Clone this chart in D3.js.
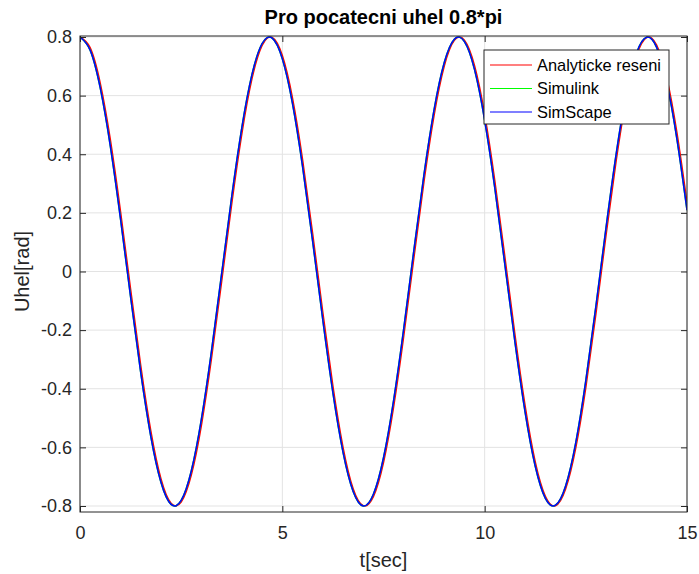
<!DOCTYPE html>
<html>
<head>
<meta charset="utf-8">
<script src="https://cdn.jsdelivr.net/npm/d3@7"></script>
<style>
body { margin:0; background:#fff; }
text { font-family: "Liberation Sans", Arial, Helvetica, sans-serif; }
</style>
</head>
<body>
<div id="chart"></div>
<script>
// time samples [s]
const time = d3.range(61).map(i => i * 0.25)
// values, one per time sample
const analyticke = [0.7995,0.7638,0.6428,0.4497,0.2063,-0.0602,-0.3199,-0.5438,-0.7070,-0.7908,
  -0.7865,-0.6946,-0.5246,-0.2960,-0.0345,0.2311,0.4706,0.6577,0.7710,0.7983,
  0.7367,0.5924,0.3817,0.1284,-0.1391,-0.3912,-0.5997,-0.7410,-0.7989,-0.7681,
  -0.6519,-0.4622,-0.2209,0.0452,0.3062,0.5329,0.7001,0.7884,0.7891,0.7022,
  0.5361,0.3100,0.0495,-0.2168,-0.4588,-0.6495,-0.7668,-0.7991,-0.7420,-0.6027,
  -0.3950,-0.1434,0.1244,0.3782,0.5898,0.7350,0.7980,0.7721,0.6603,0.4744,0.2353]
const simulink = [0.8000,0.7552,0.6261,0.4270,0.1801,-0.0869,-0.3442,-0.5630,-0.7189,-0.7944,
  -0.7811,-0.6806,-0.5038,-0.2708,-0.0076,0.2567,0.4920,0.6725,0.7778,0.7960,
  0.7254,0.5737,0.3577,0.1018,-0.1654,-0.4142,-0.6168,-0.7503,-0.7999,-0.7601,
  -0.6355,-0.4397,-0.1948,0.0720,0.3307,0.5524,0.7124,0.7925,0.7842,0.6885,
  0.5155,0.2849,0.0226,-0.2424,-0.4803,-0.6645,-0.7741,-0.7974,-0.7316,-0.5843,
  -0.3712,-0.1168,0.1508,0.4015,0.6073,0.7448,0.7994,0.7647,0.6444,0.4522,0.2093]
const simscape = [0.8000,0.7552,0.6261,0.4270,0.1801,-0.0869,-0.3442,-0.5630,-0.7189,-0.7944,
  -0.7811,-0.6806,-0.5038,-0.2708,-0.0076,0.2567,0.4920,0.6725,0.7778,0.7960,
  0.7254,0.5737,0.3577,0.1018,-0.1654,-0.4142,-0.6168,-0.7503,-0.7999,-0.7601,
  -0.6355,-0.4397,-0.1948,0.0720,0.3307,0.5524,0.7124,0.7925,0.7842,0.6885,
  0.5155,0.2849,0.0226,-0.2424,-0.4803,-0.6645,-0.7741,-0.7974,-0.7316,-0.5843,
  -0.3712,-0.1168,0.1508,0.4015,0.6073,0.7448,0.7994,0.7647,0.6444,0.4522,0.2093]
const seriesNames = ['Analyticke reseni','Simulink','SimScape']
const seriesColors = ['#ff0000','#00ff00','#0000ff']
const xTicks = [0,5,10,15]
const yTicks = [-0.8,-0.6,-0.4,-0.2,0,0.2,0.4,0.6,0.8]

const render = ()=>{
const width = 699
const height = 574
const margin = { top: 36, bottom: 62, left: 80, right: 12 }
const innerWidth = width - margin.left - margin.right
const innerHeight = height - margin.top - margin.bottom
const axisColor = '#262626'

const svg = d3.select('#chart').append('svg')
  .attr('width', width)
  .attr('height', height)

const xScale = d3.scaleLinear().domain([0,15]).range([0,innerWidth])
const yScale = d3.scaleLinear().domain([-0.8205,0.8034]).range([innerHeight,0])

const g = svg.append('g').attr('transform',`translate(${margin.left},${margin.top})`)

// grid
g.append('g').selectAll('line').data(xTicks).enter().append('line')
  .attr('x1',d=>xScale(d)).attr('x2',d=>xScale(d))
  .attr('y1',0).attr('y2',innerHeight)
  .attr('stroke','#e3e3e3')
g.append('g').selectAll('line').data(yTicks).enter().append('line')
  .attr('x1',0).attr('x2',innerWidth)
  .attr('y1',d=>yScale(d)).attr('y2',d=>yScale(d))
  .attr('stroke','#e3e3e3')

// lines
const clip = svg.append('clipPath').attr('id','clip')
clip.append('rect').attr('width',innerWidth).attr('height',innerHeight)
const line = d3.line()
  .x((d,i)=>xScale(time[i]))
  .y(d=>yScale(d))
  .curve(d3.curveNatural)
const lineGroup = g.append('g').attr('clip-path','url(#clip)')
;[analyticke, simulink, simscape].forEach((s,i)=>{
  lineGroup.append('path')
    .datum(s)
    .attr('fill','none')
    .attr('stroke',seriesColors[i])
    .attr('stroke-width',1.5)
    .attr('d',line)
})

// axes (ticks inward, MATLAB style box)
const fmt = d=>d===0 ? '0' : d3.format('.1f')(d).replace('\u2212','-')
const xAxis = g.append('g')
  .attr('transform',`translate(0,${innerHeight})`)
  .call(d3.axisBottom(xScale).tickValues(xTicks).tickSize(-6).tickSizeOuter(0).tickPadding(14))
const yAxis = g.append('g')
  .call(d3.axisLeft(yScale).tickValues(yTicks).tickSize(-6).tickSizeOuter(0).tickPadding(8).tickFormat(fmt))
const xAxisTop = g.append('g')
  .call(d3.axisTop(xScale).tickValues(xTicks).tickSize(-6).tickSizeOuter(0).tickFormat(''))
const yAxisRight = g.append('g')
  .attr('transform',`translate(${innerWidth},0)`)
  .call(d3.axisRight(yScale).tickValues(yTicks).tickSize(-6).tickSizeOuter(0).tickFormat(''))
;[xAxis,yAxis,xAxisTop,yAxisRight].forEach(a=>{
  a.select('.domain').remove()
  a.selectAll('line').attr('stroke',axisColor)
  a.selectAll('text').attr('fill',axisColor).style('font-size','18px')
    .style('font-family','"Liberation Sans", Arial, sans-serif')
})

g.append('rect')
  .attr('width',innerWidth).attr('height',innerHeight)
  .attr('fill','none').attr('stroke',axisColor).attr('stroke-width',1)

// titles
svg.append('text')
  .text('Pro pocatecni uhel 0.8*pi')
  .attr('x',margin.left+innerWidth/2).attr('y',24)
  .attr('text-anchor','middle')
  .style('font-size','20px').style('font-weight','bold')
  .attr('fill','#000')
svg.append('text')
  .text('t[sec]')
  .attr('x',margin.left+innerWidth/2).attr('y',567)
  .attr('text-anchor','middle')
  .style('font-size','20px')
  .attr('fill',axisColor)
svg.append('text')
  .text('Uhel[rad]')
  .attr('transform',`translate(29,${margin.top+yScale(0)}) rotate(-90)`)
  .attr('text-anchor','middle')
  .style('font-size','20px')
  .attr('fill',axisColor)

// legend
const legend = svg.append('g').attr('transform','translate(484,50)')
legend.append('rect')
  .attr('width',185).attr('height',74)
  .attr('fill','#fff').attr('stroke',axisColor).attr('stroke-width',1)
const item = legend.selectAll('g.item').data(seriesNames).enter().append('g')
  .attr('class','item')
  .attr('transform',(d,i)=>`translate(0,${15+i*23.5})`)
item.append('line')
  .attr('x1',6).attr('x2',48)
  .attr('stroke',(d,i)=>seriesColors[i]).attr('stroke-width',1.2)
item.append('text')
  .text(d=>d)
  .attr('x',53).attr('dy','0.35em')
  .style('font-size','16.4px')
  .attr('fill','#000')
}

render()
</script>
</body>
</html>
